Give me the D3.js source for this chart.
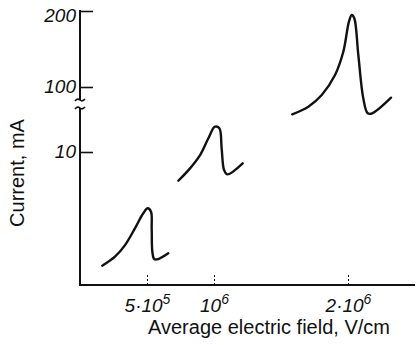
<!DOCTYPE html>
<html lang="en">
<head>
<meta charset="UTF-8">
<script src="https://d3js.org/d3.v7.min.js"></script>
<style>
  body { margin: 0; background: #fff; }
  svg { display: block; }
  .tick text { font-family: "Liberation Sans", Arial, sans-serif; font-style: italic; fill: #111; }
  .title { font-family: "Liberation Sans", Arial, sans-serif; font-size: 20px; fill: #111; }
</style>
</head>
<body>
<svg id="chart" width="416" height="345"></svg>
<script>
// field in V/cm, current in mA
const peak1Field = [1.66e5, 2.61e5, 3.36e5, 4.10e5, 4.72e5, 5.05e5, 5.30e5, 5.35e5, 5.40e5, 5.54e5, 5.84e5, 6.59e5];
const peak1Current = [1.45, 2.13, 3.0, 4.26, 5.39, 5.77, 5.51, 4.26, 2.5, 1.95, 1.95, 2.38];

const peak2Field = [7.34e5, 8.21e5, 8.96e5, 9.58e5, 1.007e6, 1.040e6, 1.057e6, 1.075e6, 1.099e6, 1.214e6];
const peak2Current = [7.84, 8.77, 9.77, 29.0, 45.0, 42.8, 15.1, 8.65, 8.32, 9.15];

const peak3Field = [1.584e6, 1.704e6, 1.804e6, 1.903e6, 1.965e6, 2.007e6, 2.028e6, 2.047e6, 2.077e6, 2.114e6, 2.147e6, 2.181e6, 2.321e6];
const peak3Current = [62.2, 72.7, 88.9, 115.8, 146.4, 185.9, 194.7, 190.4, 142.1, 84.4, 63.6, 63.6, 85.2];

const yTicks = [10, 100, 200];
const yTickLabels = ["10", "100", "200"];
const xTicks = [5e5, 1e6, 2e6];
const xTickBase = ["5·10", "10", "2·10"];
const xTickExp = ["5", "6", "6"];

const svg = d3.select("#chart");

// x is linear from 0, y is broken (lower part 0..10 squeezed, linear 100..200 on top)
const x = d3.scaleLinear().domain([0, 2.5e6]).range([80, 415]);
const y = d3.scaleLinear().domain([0, 10, 100, 200]).range([285, 152, 87, 11]);

// y axis: ticks point inward, labels on the left
const yAxis = d3.axisLeft(y)
  .tickValues(yTicks)
  .tickSize(-13)
  .tickPadding(4)
  .tickFormat((d, i) => yTickLabels[i]);

const gy = svg.append("g").attr("transform", "translate(80,0)").call(yAxis);
gy.select(".domain").remove();
gy.selectAll(".tick line").attr("stroke", "#111").attr("stroke-width", 1.6);
gy.selectAll(".tick text").attr("font-size", 19).attr("dy", (d) => d === 200 ? "0.55em" : "0.3em");

// axis line with a break between 10 and 100
const breakTop = 100, breakBottom = 108;
svg.append("line")
  .attr("x1", 80).attr("x2", 80)
  .attr("y1", y(200) - 1).attr("y2", breakTop)
  .attr("stroke", "#111").attr("stroke-width", 2);
svg.append("line")
  .attr("x1", 80).attr("x2", 80)
  .attr("y1", breakBottom).attr("y2", 286)
  .attr("stroke", "#111").attr("stroke-width", 2);
[breakTop, breakBottom].forEach(b => {
  svg.append("path")
    .attr("d", `M75,${b + 1} q2.5,-3 5,-1 q2.5,2 5,-1`)
    .attr("fill", "none").attr("stroke", "#111").attr("stroke-width", 1.6);
});

// x axis
const xAxis = d3.axisBottom(x)
  .tickValues(xTicks)
  .tickSize(-12)
  .tickPadding(9)
  .tickFormat("");

const gx = svg.append("g").attr("transform", "translate(0,285)").call(xAxis);
gx.select(".domain").remove();
gx.selectAll(".tick line").attr("stroke", "#111").attr("stroke-width", 1).attr("stroke-dasharray", "2,2");

const xLabel = gx.selectAll(".tick text")
  .attr("font-size", 19)
  .attr("dy", "0.95em")
  .attr("text-anchor", "middle");
xLabel.each(function(d, i) {
  const t = d3.select(this);
  t.append("tspan").text(xTickBase[i]);
  t.append("tspan").attr("font-size", 14).attr("dy", "-0.55em").text(xTickExp[i]);
});

svg.append("line")
  .attr("x1", 79).attr("x2", 415)
  .attr("y1", 285).attr("y2", 285)
  .attr("stroke", "#111").attr("stroke-width", 2);

// the three peaks
const line = d3.line()
  .x(d => x(d[0]))
  .y(d => y(d[1]))
  .curve(d3.curveCatmullRom.alpha(0.5));

[[peak1Field, peak1Current], [peak2Field, peak2Current], [peak3Field, peak3Current]].forEach(([f, c]) => {
  svg.append("path")
    .datum(f.map((v, i) => [v, c[i]]))
    .attr("d", line)
    .attr("fill", "none")
    .attr("stroke", "#111")
    .attr("stroke-width", 2.4)
    .attr("stroke-linecap", "round")
    .attr("stroke-linejoin", "round");
});

// axis titles
svg.append("text")
  .attr("class", "title")
  .attr("x", 269).attr("y", 334)
  .attr("text-anchor", "middle")
  .text("Average electric field, V/cm");

svg.append("text")
  .attr("class", "title")
  .attr("transform", "translate(24,173) rotate(-90)")
  .attr("text-anchor", "middle")
  .text("Current, mA");
</script>
</body>
</html>
